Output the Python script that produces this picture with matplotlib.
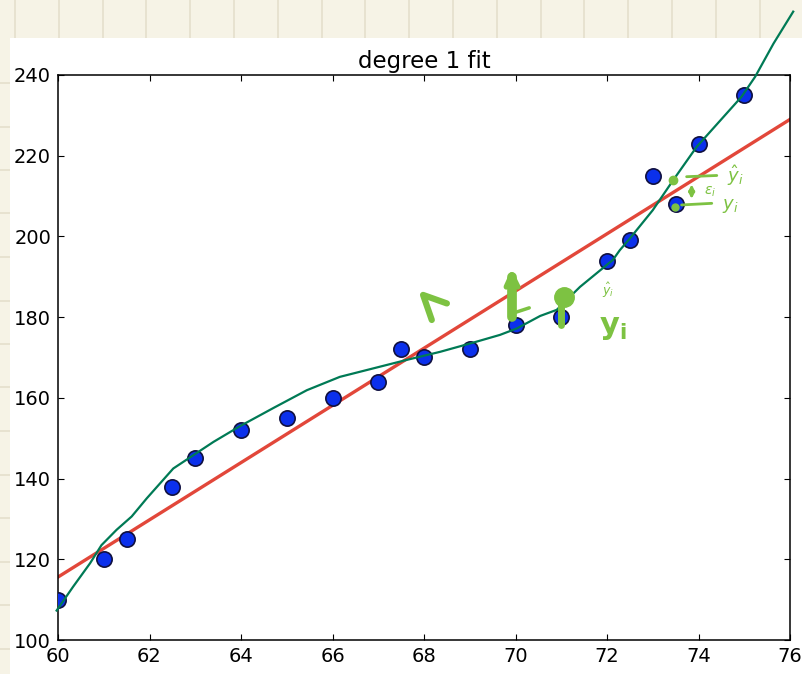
import numpy as np
import matplotlib.pyplot as plt
from matplotlib.patches import Rectangle
from matplotlib.lines import Line2D

# ---- data ----------------------------------------------------------------
height = [60, 61, 61.5, 62.5, 63, 64, 65, 66, 67, 67.5, 68, 69, 70, 71,
          72, 72.5, 73, 73.5, 74, 75]
weight = [110, 120, 125, 138, 145, 152, 155, 160, 164, 172, 170, 172, 178, 180,
          194, 199, 215, 208, 223, 235]

# degree 1 fit (end points as drawn)
fit_x = [60, 76]
fit_y = [115.6, 229.0]

# hand drawn green curve
curve_x = [59.97, 60.33, 60.70, 60.95, 61.28, 61.61, 61.94, 62.52, 62.96, 63.40,
           63.98, 64.71, 65.44, 66.16, 66.89, 67.62, 68.35, 69.08, 69.66, 70.03,
           70.54, 70.90, 71.41, 72.13, 72.28, 72.50, 73.00, 73.45, 73.96, 74.94,
           75.24, 75.64, 76.07]
curve_y = [107.3, 113.2, 119.0, 123.5, 127.3, 130.6, 135.1, 142.5, 145.8, 149.1,
           153.0, 157.5, 161.9, 165.2, 167.3, 169.4, 171.4, 173.7, 175.6, 177.2,
           180.3, 181.8, 187.5, 194.2, 196.6, 199.5, 206.5, 214.0, 222.2, 234.6,
           239.6, 247.8, 255.7]

PAPER = "#f6f3e6"
PAPER_GRID = "#e4dfcc"
GREEN = "#007a55"
PEN = "#7dc242"
RED = "#e2473a"
BLUE = "#0b30ec"

W, H = 802, 674
plt.rcParams["mathtext.fontset"] = "dejavusans"
fig = plt.figure(figsize=(W / 100, H / 100), dpi=100, facecolor=PAPER)

# notebook paper around the screenshot
for gx in np.arange(15, W, 43.8):
    fig.add_artist(Line2D([gx / W, gx / W], [1 - 38 / H, 1], color=PAPER_GRID,
                          lw=1.2, zorder=-2))
for gy in np.arange(83, H, 43.5):
    fig.add_artist(Line2D([0, 10 / W], [1 - gy / H, 1 - gy / H], color=PAPER_GRID,
                          lw=1.2, zorder=-2))
fig.add_artist(Rectangle((10 / W, 0), 1 - 10 / W, 1 - 38 / H,
                         transform=fig.transFigure, facecolor="white",
                         edgecolor="none", zorder=-1))

ax = fig.add_axes([58 / W, 1 - 640 / H, 732 / W, 565 / H])
ax.plot(fit_x, fit_y, color=RED, lw=2.4, zorder=2)
ax.plot(height, weight, "o", ms=11, mfc=BLUE, mec="#101040", mew=1.2, zorder=3)
ax.plot(curve_x, curve_y, color=GREEN, lw=1.6, clip_on=False, zorder=4,
        solid_joinstyle="round")

ax.set_xlim(60, 76)
ax.set_ylim(100, 240)
ax.set_xticks(np.arange(60, 77, 2))
ax.set_yticks(np.arange(100, 241, 20))
ax.tick_params(direction="in", top=True, right=True, length=4, width=0.8,
               labelsize=14, pad=5)
for s in ax.spines.values():
    s.set_linewidth(1.1)
ax.set_title("degree 1 fit", fontsize=16.5, pad=5)

# ---- handwritten annotations --------------------------------------------
pen = dict(color=PEN, solid_capstyle="round", clip_on=False, zorder=6)
ax.plot([68.17, 67.98, 68.50], [179.3, 185.5, 183.4], lw=4.5, **pen)
ax.plot([69.92, 69.92], [180.0, 190.0], lw=7, **pen)
ax.plot([69.80, 69.92, 70.05], [187.5, 190.5, 187.5], lw=4, **pen)
ax.plot([69.95, 70.30], [181.0, 182.3], lw=2.5, **pen)
ax.plot([71.0, 71.0], [178.0, 184.0], lw=5, **pen)
ax.plot([71.05], [185.1], "o", ms=14, mfc=PEN, mec=PEN, clip_on=False, zorder=6)
ax.text(72.03, 186.5, r"$\hat{y}_i$", color=PEN, fontsize=9,
        ha="center", va="center", zorder=6)
ax.text(72.12, 177.5, r"$\mathbf{y_i}$", color=PEN, fontsize=22,
        ha="center", va="center", zorder=6)

ax.plot([73.45], [214.0], "o", ms=6, mfc=PEN, mec=PEN, zorder=6)
ax.plot([73.49], [207.4], "o", ms=5, mfc=PEN, mec=PEN, zorder=6)
ax.plot([73.74, 74.40], [214.8, 215.1], lw=2, **pen)
ax.plot([73.63, 74.29], [207.8, 208.2], lw=2, **pen)
ax.annotate("", xy=(73.85, 213.6), xytext=(73.85, 208.6),
            arrowprops=dict(arrowstyle="<->", color=PEN, lw=2,
                            mutation_scale=8), zorder=6)
ax.text(74.80, 215.0, r"$\hat{y}_i$", color=PEN, fontsize=13,
        ha="center", va="center", zorder=6)
ax.text(74.25, 211.0, r"$\epsilon_i$", color=PEN, fontsize=10,
        ha="center", va="center", zorder=6)
ax.text(74.69, 207.5, r"$y_i$", color=PEN, fontsize=13,
        ha="center", va="center", zorder=6)

fig.savefig("out.png", dpi=100, facecolor=PAPER)
